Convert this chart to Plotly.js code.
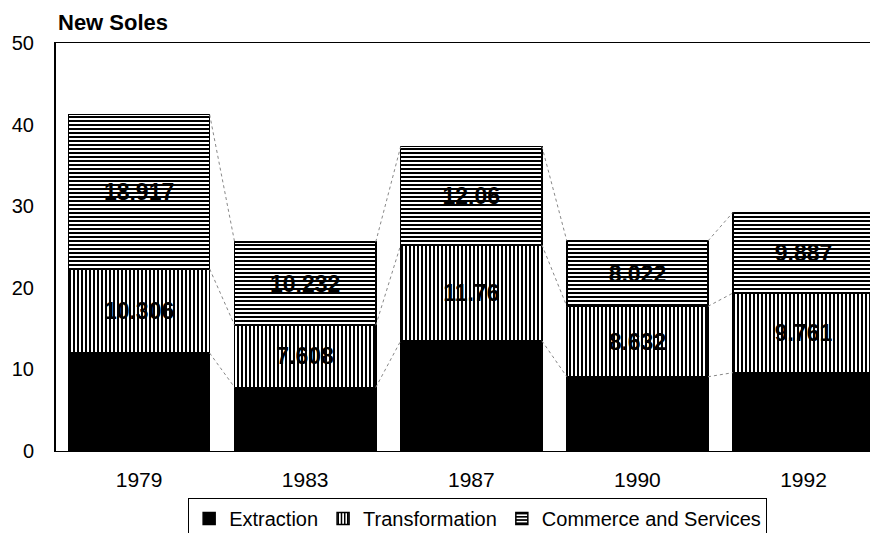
<!DOCTYPE html>
<html>
<head>
<meta charset="utf-8">
<script src="https://cdn.plot.ly/plotly-3.0.1.min.js"></script>
<style>
  body { margin: 0; background: #fff; }
  #chart { width: 870px; height: 533px; }
</style>
</head>
<body>
<div id="chart"></div>
<script>
// Years on the x axis
var years = ['1979', '1983', '1987', '1990', '1992'];

// Values (New Soles) per sector
var extraction = [12.0, 7.8, 13.5, 9.1, 9.6];
var transformation = [10.306, 7.608, 11.76, 8.632, 9.761];
var commerce = [18.917, 10.232, 12.06, 8.022, 9.887];

var pos = years.map(function (y, i) { return i; });
var halfWidth = 0.425; // half of bar width (bargap 0.15)

var font = 'Liberation Sans, Arial, sans-serif';

function barTrace(name, values, pattern, showText) {
  return {
    x: pos,
    y: values,
    name: name,
    type: 'bar',
    text: showText ? values.map(String) : null,
    textposition: showText ? 'inside' : 'none',
    insidetextanchor: 'middle',
    textangle: 0,
    constraintext: 'none',
    textfont: { family: font, size: 23, color: 'black', weight: 'bold' },
    hoverinfo: 'y+name',
    marker: {
      color: 'black',
      pattern: pattern,
      line: { color: 'black', width: 1.5 }
    }
  };
}

// Cumulative tops for the connector lines between bars
var level1 = extraction.slice();
var level2 = extraction.map(function (v, i) { return v + transformation[i]; });
var level3 = level2.map(function (v, i) { return v + commerce[i]; });

function connector(levels) {
  var xs = [], ys = [];
  for (var i = 0; i < levels.length - 1; i++) {
    xs.push(pos[i] + halfWidth, pos[i + 1] - halfWidth, null);
    ys.push(levels[i], levels[i + 1], null);
  }
  return {
    x: xs, y: ys, type: 'scatter', mode: 'lines',
    line: { color: '#888', width: 1, dash: 'dot' },
    showlegend: false, hoverinfo: 'skip'
  };
}

var data = [
  barTrace('Extraction', extraction, { shape: '' }, false),
  barTrace('Transformation', transformation,
    { shape: '|', fgcolor: 'black', bgcolor: 'white', size: 4, solidity: 0.5 }, true),
  barTrace('Commerce and Services', commerce,
    { shape: '-', fgcolor: 'black', bgcolor: 'white', size: 4, solidity: 0.5 }, true),
  connector(level1),
  connector(level2),
  connector(level3)
];

var layout = {
  width: 870,
  height: 533,
  margin: { l: 56, r: 0, t: 43, b: 82, autoexpand: false },
  paper_bgcolor: 'white',
  plot_bgcolor: 'white',
  barmode: 'stack',
  bargap: 0.15,
  font: { family: font, color: 'black' },
  xaxis: {
    range: [-0.5, 4.4],
    tickvals: pos,
    ticktext: years,
    tickfont: { size: 21 },
    ticks: '',
    ticklabelstandoff: 10,
    showgrid: false,
    zeroline: false,
    showline: true,
    linecolor: 'black',
    linewidth: 1,
    mirror: true
  },
  yaxis: {
    range: [0, 50],
    dtick: 10,
    tickfont: { size: 20 },
    ticks: '',
    ticklabelstandoff: 16,
    showgrid: false,
    zeroline: false,
    showline: true,
    linecolor: 'black',
    linewidth: 2,
    mirror: true
  },
  legend: {
    orientation: 'h',
    x: 0.518,
    xanchor: 'center',
    y: -0.115,
    yanchor: 'top',
    font: { size: 20 },
    bordercolor: 'black',
    borderwidth: 1,
    traceorder: 'normal',
    itemwidth: 30
  },
  annotations: [{
    text: 'New Soles',
    xref: 'paper', yref: 'paper',
    x: 0, y: 1, xanchor: 'left', yanchor: 'bottom',
    yshift: 6,
    showarrow: false,
    font: { size: 22, weight: 'bold' }
  }]
};

Plotly.newPlot('chart', data, layout, { displayModeBar: false });
</script>
</body>
</html>
